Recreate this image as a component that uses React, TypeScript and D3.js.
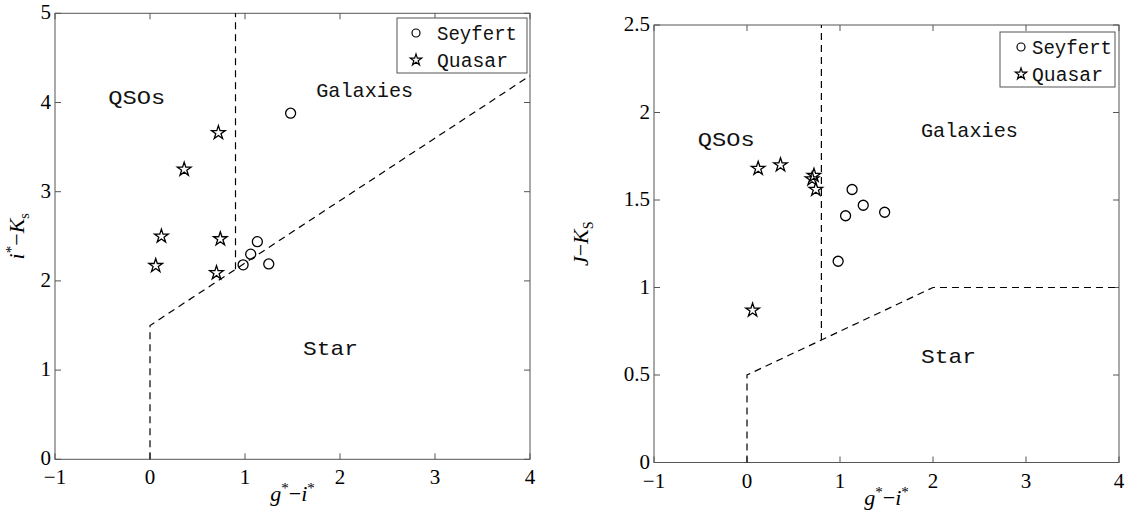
import React from 'react';
import * as d3 from 'd3';

// Colour indices g*-i* shared by both diagrams
const quasarGI = [0.06, 0.12, 0.36, 0.70, 0.72, 0.74];
const quasarIK = [2.17, 2.50, 3.25, 2.09, 3.66, 2.47];
const quasarJK = [0.87, 1.68, 1.70, 1.62, 1.64, 1.56];
const seyfertGI = [0.98, 1.06, 1.13, 1.25, 1.48];
const seyfertIK = [2.18, 2.30, 2.44, 2.19, 3.88];
const seyfertJK = [1.15, 1.41, 1.56, 1.47, 1.43];

const xTicks = [-1, 0, 1, 2, 3, 4];
const yTicksIK = [0, 1, 2, 3, 4, 5];
const yTicksJK = [0, 0.5, 1, 1.5, 2, 2.5];

// Dividing lines between object classes
const ikStarLine: [number, number][] = [[0, 0], [0, 1.5], [4, 4.3]];
const ikQsoLine: [number, number][] = [[0.9, 2.13], [0.9, 5]];
const jkStarLine: [number, number][] = [[0, 0], [0, 0.5], [2, 1], [4, 1]];
const jkQsoLine: [number, number][] = [[0.8, 0.7], [0.8, 2.5]];

const regionNames = ['QSOs', 'Galaxies', 'Star'];
const ikRegionPos: [number, number][] = [[-0.44, 4.06], [1.75, 4.14], [1.61, 1.25]];
const jkRegionPos: [number, number][] = [[-0.53, 1.85], [1.87, 1.90], [1.87, 0.61]];
const regionWidths = [57, 97, 55];

const legendNames = ['Seyfert', 'Quasar'];

const AXIS = '#555';
const LABEL_FONT = '"Liberation Mono", monospace';
const TICK_FONT = '"Liberation Serif", serif';

type PanelProps = {
  x0: number; x1: number; yTop: number; yBot: number;
  yDomain: [number, number];
  yTicks: number[];
  quasarY: number[]; seyfertY: number[];
  lines: [number, number][][];
  regionPos: [number, number][];
  legend: { x: number; y: number; w: number; h: number; mx: number; tx: number };
  yLabel: React.ReactNode;
  yLabelX: number;
};

const fmtMinus = (s: string) => s.replace('-', '\u2212');

function Panel(p: PanelProps) {
  const x = d3.scaleLinear().domain([-1, 4]).range([p.x0, p.x1]);
  const y = d3.scaleLinear().domain(p.yDomain).range([p.yBot, p.yTop]);
  const line = d3.line<[number, number]>().x(d => x(d[0])).y(d => y(d[1]));
  const star = d3.symbol().type(d3.symbolStar).size(58)();
  const tick = 6;
  const midY = (p.yTop + p.yBot) / 2;
  const midX = (p.x0 + p.x1) / 2;
  return (
    <g>
      {/* frame */}
      <rect x={p.x0} y={p.yTop} width={p.x1 - p.x0} height={p.yBot - p.yTop}
        fill="white" stroke={AXIS} strokeWidth={1} />
      {/* x ticks, inward on bottom and top */}
      {xTicks.map(t => (
        <g key={'x' + t}>
          <line x1={x(t)} x2={x(t)} y1={p.yBot} y2={p.yBot - tick} stroke={AXIS} />
          <line x1={x(t)} x2={x(t)} y1={p.yTop} y2={p.yTop + tick} stroke={AXIS} />
          <text x={x(t)} y={p.yBot + 25} textAnchor="middle" fontFamily={TICK_FONT}
            fontSize={21} fill="#000">{fmtMinus(String(t))}</text>
        </g>
      ))}
      {p.yTicks.map(t => (
        <g key={'y' + t}>
          <line x1={p.x0} x2={p.x0 + tick} y1={y(t)} y2={y(t)} stroke={AXIS} />
          <line x1={p.x1} x2={p.x1 - tick} y1={y(t)} y2={y(t)} stroke={AXIS} />
          <text x={p.x0 - 4} y={y(t) + 6} textAnchor="end" fontFamily={TICK_FONT}
            fontSize={21} fill="#000">{String(t)}</text>
        </g>
      ))}
      {/* class boundaries */}
      {p.lines.map((l, i) => (
        <path key={'l' + i} d={line(l) ?? ''} fill="none" stroke="#000"
          strokeWidth={1.2} strokeDasharray="7,5" />
      ))}
      {/* region names */}
      {regionNames.map((n, i) => (
        <text key={n} x={x(p.regionPos[i][0])} y={y(p.regionPos[i][1]) + 7}
          fontFamily={LABEL_FONT} fontSize={21} textLength={regionWidths[i]}
          lengthAdjust="spacingAndGlyphs" fill="#111">{n}</text>
      ))}
      {/* objects */}
      {quasarGI.map((g, i) => (
        <path key={'q' + i} d={star ?? ''} transform={`translate(${x(g)},${y(p.quasarY[i])})`}
          fill="none" stroke="#000" strokeWidth={1.3} />
      ))}
      {seyfertGI.map((g, i) => (
        <circle key={'s' + i} cx={x(g)} cy={y(p.seyfertY[i])} r={5}
          fill="none" stroke="#000" strokeWidth={1.3} />
      ))}
      {/* legend */}
      <g>
        <rect x={p.legend.x} y={p.legend.y} width={p.legend.w} height={p.legend.h}
          fill="white" stroke={AXIS} strokeWidth={1} />
        <circle cx={p.legend.mx} cy={p.legend.y + 15} r={4} fill="none" stroke="#000" strokeWidth={1.2} />
        <path d={d3.symbol().type(d3.symbolStar).size(40)() ?? ''}
          transform={`translate(${p.legend.mx},${p.legend.y + 42})`}
          fill="none" stroke="#000" strokeWidth={1.2} />
        {legendNames.map((n, i) => (
          <text key={n} x={p.legend.tx} y={p.legend.y + 22 + i * 27} fontFamily={LABEL_FONT}
            fontSize={20} textLength={n === 'Seyfert' ? 80 : 71} lengthAdjust="spacingAndGlyphs"
            fill="#111">{n}</text>
        ))}
      </g>
      {/* axis titles */}
      <text x={midX} y={p.yBot + 42} textAnchor="middle" fontFamily={TICK_FONT}
        fontSize={22} fill="#000">
        <tspan fontStyle="italic">g</tspan>
        <tspan fontSize={15} dy={-8}>*</tspan>
        <tspan dy={8}>{'\u2212'}</tspan>
        <tspan fontStyle="italic">i</tspan>
        <tspan fontSize={15} dy={-8}>*</tspan>
      </text>
      <g transform={`translate(${p.yLabelX},${midY}) rotate(-90)`}>
        {p.yLabel}
      </g>
    </g>
  );
}

export default function App() {
  return (
    <svg width={1125} height={515} style={{ display: 'block', position: 'absolute', left: 0, top: 0 }}>
      <rect width={1125} height={515} fill="white" />
      <Panel
        x0={55} x1={530} yTop={13.3} yBot={459.3}
        yDomain={[0, 5]} yTicks={yTicksIK}
        quasarY={quasarIK} seyfertY={seyfertIK}
        lines={[ikStarLine, ikQsoLine]} regionPos={ikRegionPos}
        legend={{ x: 397, y: 18, w: 130, h: 55, mx: 416, tx: 437 }}
        yLabelX={24}
        yLabel={
          <text textAnchor="middle" fontFamily={TICK_FONT} fontSize={22} fill="#000">
            <tspan fontStyle="italic">i</tspan>
            <tspan fontSize={15} dy={-8}>*</tspan>
            <tspan dy={8}>{'\u2212'}</tspan>
            <tspan fontStyle="italic">K</tspan>
            <tspan fontSize={14} dy={5}>s</tspan>
          </text>
        }
      />
      <Panel
        x0={654} x1={1119} yTop={25} yBot={462.5}
        yDomain={[0, 2.5]} yTicks={yTicksJK}
        quasarY={quasarJK} seyfertY={seyfertJK}
        lines={[jkStarLine, jkQsoLine]} regionPos={jkRegionPos}
        legend={{ x: 1000, y: 32, w: 115, h: 55, mx: 1021, tx: 1032 }}
        yLabelX={588}
        yLabel={
          <text textAnchor="middle" fontFamily={TICK_FONT} fontSize={22} fill="#000">
            <tspan fontStyle="italic">J</tspan>
            <tspan>{'\u2212'}</tspan>
            <tspan fontStyle="italic">K</tspan>
            <tspan fontSize={14} dy={5}>S</tspan>
          </text>
        }
      />
    </svg>
  );
}
